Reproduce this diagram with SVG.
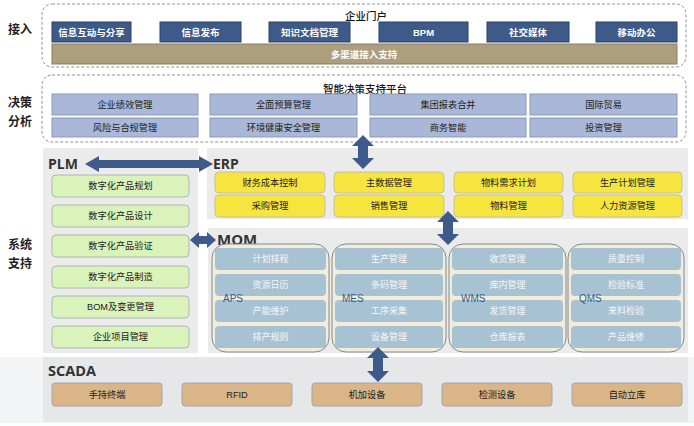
<svg xmlns="http://www.w3.org/2000/svg" width="694" height="426" viewBox="0 0 694 426">
<style>
text{font-family:"Liberation Sans","Noto Sans CJK SC",sans-serif;text-anchor:middle;dominant-baseline:central}
.side{font-family:"Noto Sans CJK SC",sans-serif;font-size:12px;font-weight:bold;fill:#222;text-anchor:start}
.title{font-family:"Noto Sans CJK SC",sans-serif;font-size:10.5px;font-weight:500;fill:#111}
.sys{font-family:"Open Sans","Liberation Sans",sans-serif;font-size:14px;font-weight:bold;fill:#333;text-anchor:start}
.dash{fill:none;stroke:#8c939c;stroke-width:1;stroke-dasharray:3 2}
.panel{fill:#ebebeb}
.blue{fill:#3e5a88;stroke:#2a4168;stroke-width:1}
.blue-t{font-size:9.5px;font-weight:bold;fill:#fff}
.tan{fill:#ad9e7e;stroke:#8c7e60;stroke-width:1}
.dec{fill:#a9b8d8;stroke:#8b9aba;stroke-width:1}
.erp{fill:#f7e53f;stroke:#c5bfa0;stroke-width:1}
.plm{fill:#d9f3bb;stroke:#aeb8b4;stroke-width:1}
.grp{fill:#f3ecd9;stroke:#7e8a94;stroke-width:1}
.mb{fill:#a7c3d3}
.mb-t{font-size:9px;fill:#f6f6f6}
.grp-t{font-family:"Liberation Sans",sans-serif;font-size:10px;fill:#3e5a88;text-anchor:start}
.scb{fill:#dab587;stroke:#a1a6b1;stroke-width:1}
.t9{font-size:9.2px;fill:#222}
.arrow{fill:#3e5a8a}
</style>
<rect width="694" height="426" fill="#fff"/>

<!-- left labels -->
<text class="side" x="8" y="28">接入</text>
<text class="side" x="8" y="101">决策</text>
<text class="side" x="8" y="120">分析</text>
<text class="side" x="8" y="243">系统</text>
<text class="side" x="8" y="262">支持</text>

<!-- access layer -->
<g id="portal">
<rect class="dash" x="42" y="4" width="644" height="63" rx="10"/>
<text class="title" x="366" y="15">企业门户</text>
<rect class="blue" x="52" y="22" width="79" height="20"/><text class="blue-t" x="91.5" y="32">信息互动与分享</text>
<rect class="blue" x="160" y="22" width="81" height="20"/><text class="blue-t" x="200.5" y="32">信息发布</text>
<rect class="blue" x="269" y="22" width="81" height="20"/><text class="blue-t" x="309.5" y="32">知识文档管理</text>
<rect class="blue" x="379" y="22" width="89" height="20"/><text class="blue-t" x="423.5" y="32">BPM</text>
<rect class="blue" x="487" y="22" width="82" height="20"/><text class="blue-t" x="528" y="32">社交媒体</text>
<rect class="blue" x="596" y="22" width="81" height="20"/><text class="blue-t" x="636.5" y="32">移动办公</text>
<rect class="tan" x="52" y="44" width="625" height="20"/><text class="blue-t" x="364" y="54">多渠道接入支持</text>
</g>

<!-- decision layer -->
<g id="decision">
<rect class="dash" x="42" y="75" width="644" height="67" rx="10"/>
<text class="title" x="365" y="88">智能决策支持平台</text>
<rect class="dec" x="52" y="94" width="146" height="21"/><text class="t9" x="125" y="104.5">企业绩效管理</text>
<rect class="dec" x="210" y="94" width="147" height="21"/><text class="t9" x="283.5" y="104.5">全面预算管理</text>
<rect class="dec" x="370" y="94" width="156" height="21"/><text class="t9" x="448" y="104.5">集团报表合并</text>
<rect class="dec" x="530" y="94" width="147" height="21"/><text class="t9" x="603.5" y="104.5">国际贸易</text>
<rect class="dec" x="52" y="118" width="146" height="19"/><text class="t9" x="125" y="127.5">风险与合规管理</text>
<rect class="dec" x="210" y="118" width="147" height="19"/><text class="t9" x="283.5" y="127.5">环境健康安全管理</text>
<rect class="dec" x="370" y="118" width="156" height="19"/><text class="t9" x="448" y="127.5">商务智能</text>
<rect class="dec" x="530" y="118" width="147" height="19"/><text class="t9" x="603.5" y="127.5">投资管理</text>
</g>

<!-- PLM -->
<g id="plm">
<rect class="panel" x="43" y="148" width="155" height="205"/>
<text class="sys" x="48" y="163">PLM</text>
<rect class="plm" x="52" y="175" width="137" height="22" rx="4"/><text class="t9" x="120.5" y="186">数字化产品规划</text>
<rect class="plm" x="52" y="205" width="137" height="22" rx="4"/><text class="t9" x="120.5" y="216">数字化产品设计</text>
<rect class="plm" x="52" y="235" width="137" height="22" rx="4"/><text class="t9" x="120.5" y="246">数字化产品验证</text>
<rect class="plm" x="52" y="266" width="137" height="22" rx="4"/><text class="t9" x="120.5" y="277">数字化产品制造</text>
<rect class="plm" x="52" y="296" width="137" height="22" rx="4"/><text class="t9" x="120.5" y="307">BOM及变更管理</text>
<rect class="plm" x="52" y="326" width="137" height="22" rx="4"/><text class="t9" x="120.5" y="337">企业项目管理</text>
</g>

<!-- ERP -->
<g id="erp">
<rect class="panel" x="207" y="148" width="481" height="71"/>
<text class="sys" x="213" y="163">ERP</text>
<rect class="erp" x="215" y="172" width="110" height="21" rx="4"/><text class="t9" x="270" y="182.5">财务成本控制</text>
<rect class="erp" x="334" y="172" width="110" height="21" rx="4"/><text class="t9" x="389" y="182.5">主数据管理</text>
<rect class="erp" x="454" y="172" width="109" height="21" rx="4"/><text class="t9" x="508.5" y="182.5">物料需求计划</text>
<rect class="erp" x="573" y="172" width="109" height="21" rx="4"/><text class="t9" x="627.5" y="182.5">生产计划管理</text>
<rect class="erp" x="215" y="195" width="110" height="22" rx="4"/><text class="t9" x="270" y="206">采购管理</text>
<rect class="erp" x="334" y="195" width="110" height="22" rx="4"/><text class="t9" x="389" y="206">销售管理</text>
<rect class="erp" x="454" y="195" width="109" height="22" rx="4"/><text class="t9" x="508.5" y="206">物料管理</text>
<rect class="erp" x="573" y="195" width="109" height="22" rx="4"/><text class="t9" x="627.5" y="206">人力资源管理</text>
</g>

<!-- MOM -->
<g id="mom">
<rect class="panel" x="208" y="228" width="480" height="125"/>
<text class="sys" x="217" y="239" style="font-size:15px">MOM</text>
</g>
<g id="aps">
<rect class="grp" x="212" y="244" width="117" height="108" rx="14"/>
<rect class="mb" x="215" y="248" width="111" height="22" rx="4"/><text class="mb-t" x="270.5" y="259">计划排程</text>
<rect class="mb" x="215" y="274" width="111" height="22" rx="4"/><text class="mb-t" x="270.5" y="285">资源日历</text>
<rect class="mb" x="215" y="300" width="111" height="22" rx="4"/><text class="mb-t" x="270.5" y="311">产能维护</text>
<rect class="mb" x="215" y="326" width="111" height="22" rx="4"/><text class="mb-t" x="270.5" y="337">排产规则</text>
<text class="grp-t" x="223" y="298">APS</text>
</g>
<g id="mes">
<rect class="grp" x="332" y="244" width="114" height="108" rx="14"/>
<rect class="mb" x="335" y="248" width="108" height="22" rx="4"/><text class="mb-t" x="389" y="259">生产管理</text>
<rect class="mb" x="335" y="274" width="108" height="22" rx="4"/><text class="mb-t" x="389" y="285">条码管理</text>
<rect class="mb" x="335" y="300" width="108" height="22" rx="4"/><text class="mb-t" x="389" y="311">工序采集</text>
<rect class="mb" x="335" y="326" width="108" height="22" rx="4"/><text class="mb-t" x="389" y="337">设备管理</text>
<text class="grp-t" x="342" y="298">MES</text>
</g>
<g id="wms">
<rect class="grp" x="449" y="244" width="117" height="108" rx="14"/>
<rect class="mb" x="452" y="248" width="111" height="22" rx="4"/><text class="mb-t" x="507.5" y="259">收货管理</text>
<rect class="mb" x="452" y="274" width="111" height="22" rx="4"/><text class="mb-t" x="507.5" y="285">库内管理</text>
<rect class="mb" x="452" y="300" width="111" height="22" rx="4"/><text class="mb-t" x="507.5" y="311">发货管理</text>
<rect class="mb" x="452" y="326" width="111" height="22" rx="4"/><text class="mb-t" x="507.5" y="337">仓库报表</text>
<text class="grp-t" x="461" y="298">WMS</text>
</g>
<g id="qms">
<rect class="grp" x="568" y="244" width="116" height="108" rx="14"/>
<rect class="mb" x="571" y="248" width="110" height="22" rx="4"/><text class="mb-t" x="626" y="259">质量控制</text>
<rect class="mb" x="571" y="274" width="110" height="22" rx="4"/><text class="mb-t" x="626" y="285">检验标准</text>
<rect class="mb" x="571" y="300" width="110" height="22" rx="4"/><text class="mb-t" x="626" y="311">来料检验</text>
<rect class="mb" x="571" y="326" width="110" height="22" rx="4"/><text class="mb-t" x="626" y="337">产品维修</text>
<text class="grp-t" x="579" y="298">QMS</text>
</g>

<!-- SCADA -->
<g id="scada">
<rect x="0" y="357" width="694" height="66" fill="#f3f4f6"/>
<rect x="43" y="357" width="645" height="65" fill="#e6e7e9"/>
<text class="sys" x="48" y="370" style="font-size:14.5px">SCADA</text>
<rect class="scb" x="52" y="383" width="110" height="23" rx="3"/><text class="t9" x="107" y="394.5">手持终端</text>
<rect class="scb" x="182" y="383" width="110" height="23" rx="3"/><text class="t9" x="237" y="394.5">RFID</text>
<rect class="scb" x="312" y="383" width="110" height="23" rx="3"/><text class="t9" x="367" y="394.5">机加设备</text>
<rect class="scb" x="442" y="383" width="110" height="23" rx="3"/><text class="t9" x="497" y="394.5">检测设备</text>
<rect class="scb" x="572" y="383" width="110" height="23" rx="3"/><text class="t9" x="627" y="394.5">自动立库</text>
</g>

<!-- connectors -->
<g id="connectors">
<path class="arrow" d="M85,164 L99,156 L99,160 L199,160 L199,156 L213,164 L199,172 L199,168 L99,168 L99,172 Z"/>
<path class="arrow" d="M190,240 L199,232 L199,236 L207,236 L207,232 L216,240 L207,248 L207,244 L199,244 L199,248 Z"/>
<path class="arrow" d="M363,135 L374,146 L368,146 L368,158 L374,158 L363,169 L352,158 L358,158 L358,146 L352,146 Z"/>
<path class="arrow" d="M448,211 L459,222 L453,222 L453,234 L459,234 L448,245 L437,234 L443,234 L443,222 L437,222 Z"/>
<path class="arrow" d="M378,347 L389,358 L383,358 L383,371 L389,371 L378,382 L367,371 L373,371 L373,358 L367,358 Z"/>
</g>
</svg>
